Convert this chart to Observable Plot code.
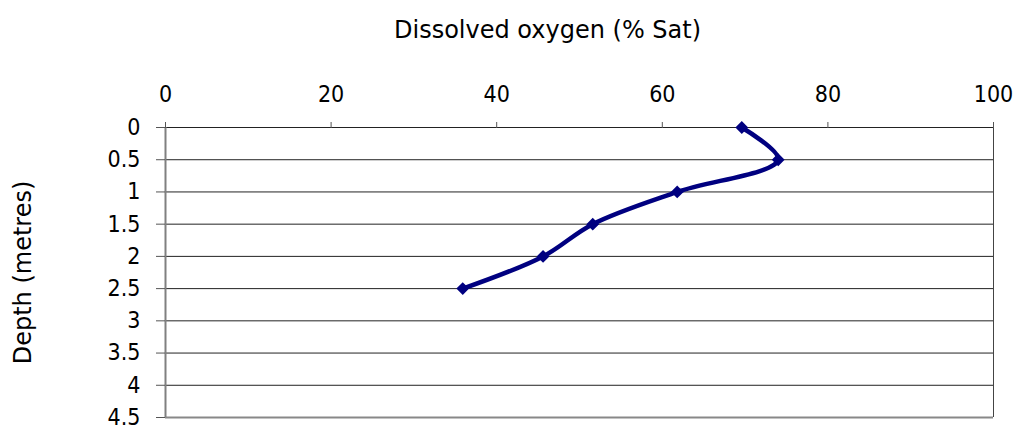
<!DOCTYPE html>
<html>
<head>
<meta charset="utf-8">
<script src="https://cdn.jsdelivr.net/npm/d3@7"></script>
<script src="https://cdn.jsdelivr.net/npm/@observablehq/plot@0.6"></script>
<style>
  html, body { margin: 0; padding: 0; background: #fff; }
</style>
</head>
<body>
<div id="chart"></div>
<script>
const depth = [0, 0.5, 1, 1.5, 2, 2.5];
const oxygen = [69.6, 74.0, 61.8, 51.6, 45.6, 35.9];
const xTicks = [0, 20, 40, 60, 80, 100];
const yTicks = [0, 0.5, 1, 1.5, 2, 2.5, 3, 3.5, 4, 4.5];
const xTitle = "Dissolved oxygen (% Sat)";
const yTitle = "Depth (metres)";

const data = depth.map((d, i) => ({depth: d, oxygen: oxygen[i]}));
const tickFont = "'DejaVu Sans Condensed', 'DejaVu Sans', sans-serif";
const titleFont = "'DejaVu Sans', sans-serif";

const chart = Plot.plot({
  width: 1021,
  height: 430,
  marginLeft: 165,
  marginRight: 28,
  marginTop: 127,
  marginBottom: 13,
  style: {fontFamily: tickFont, fontSize: "23px", color: "#000", background: "#fff"},
  x: {domain: [0, 100]},
  y: {domain: [0, 4.5], reverse: true},
  marks: [
    Plot.ruleY(yTicks, {stroke: "#222", strokeWidth: 1}),
    Plot.ruleY([4.5], {stroke: "#888", strokeWidth: 2}),
    Plot.ruleX([0], {stroke: "#808080", strokeWidth: 2}),
    Plot.ruleX([100], {stroke: "#444", strokeWidth: 1}),
    Plot.axisX({anchor: "top", ticks: xTicks, tickSize: 6, tickPadding: 20, tickFormat: d => String(d), label: null, fontSize: 23, stroke: "#555"}),
    Plot.axisY({anchor: "left", ticks: yTicks, tickSize: 9, tickPadding: 16, tickFormat: d => String(d), label: null, fontSize: 23, stroke: "#555"}),
    Plot.text([xTitle], {frameAnchor: "top", dx: -32, dy: -97, text: d => d, fontSize: 24, fontFamily: titleFont, lineAnchor: "middle"}),
    Plot.text([yTitle], {frameAnchor: "left", dx: -142, rotate: -90, text: d => d, fontSize: 24, fontFamily: titleFont, textAnchor: "middle", lineAnchor: "middle"}),
    Plot.line(data, {x: "oxygen", y: "depth", curve: "catmull-rom", stroke: "#000080", strokeWidth: 4.5}),
    Plot.dot(data, {x: "oxygen", y: "depth", symbol: "diamond2", r: 4.5, fill: "#000080", stroke: "#000080", strokeWidth: 2})
  ]
});
document.getElementById("chart").appendChild(chart);
</script>
</body>
</html>
